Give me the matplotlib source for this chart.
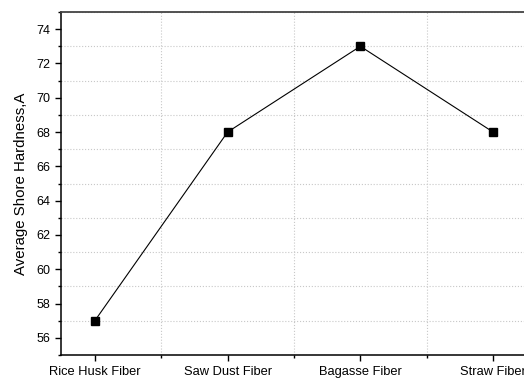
import matplotlib.pyplot as plt
from matplotlib.ticker import MultipleLocator, FixedLocator

plt.rcParams['font.family'] = ['Liberation Sans', 'DejaVu Sans']

# データ
fibers = ["Rice Husk Fiber", "Saw Dust Fiber", "Bagasse Fiber", "Straw Fiber"]
hardness = [57, 68, 73, 68]

fig = plt.figure(figsize=(5.24, 3.81), dpi=100)
ax = fig.add_axes([0.1164, 0.0682, 0.888, 0.9003])

x = list(range(len(fibers)))
ax.plot(x, hardness, color="black", linewidth=0.8, marker="s", markersize=5.5,
        markerfacecolor="black", markeredgecolor="black")

ax.set_xlim(-0.255, 3.25)
ax.set_ylim(55, 75)
ax.set_xticks(x)
ax.set_xticklabels(fibers, fontsize=9.3)
ax.xaxis.set_minor_locator(FixedLocator([0.5, 1.5, 2.5]))
ax.yaxis.set_major_locator(MultipleLocator(2))
ax.yaxis.set_minor_locator(MultipleLocator(1))
ax.tick_params(axis="y", labelsize=9)
ax.tick_params(axis="x", pad=4)
ax.tick_params(which="major", length=4, width=1, direction="out")
ax.tick_params(which="minor", length=2.5, width=1, direction="out")

ax.set_ylabel("Average Shore Hardness,A", fontsize=10.8, labelpad=6)

# グリッド (副目盛り)
ax.grid(True, which="minor", color="#c8c8c8", linestyle=":", linewidth=0.8)
ax.grid(False, which="major")
ax.set_axisbelow(True)

ax.spines["left"].set_linewidth(1.1)
ax.spines["bottom"].set_linewidth(1.1)
ax.spines["top"].set_linewidth(1.3)
ax.spines["top"].set_color("#444444")
ax.spines["right"].set_visible(False)

fig.savefig("out.png", dpi=100)
